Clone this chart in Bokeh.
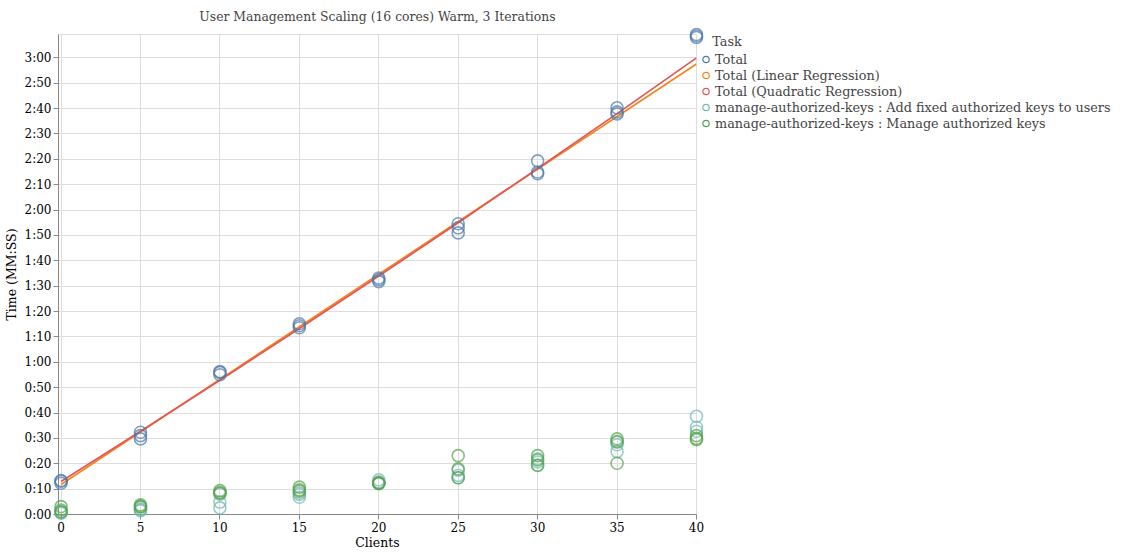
from bokeh.plotting import figure
from bokeh.models import Range1d, FixedTicker, Legend, LegendItem, ColumnDataSource
from bokeh.embed import file_html
from bokeh.resources import INLINE

# ---- data (seconds) ----
clients = [0, 5, 10, 15, 20, 25, 30, 35, 40]
total_it1 = [12.3, 29.8, 55.1, 73.6, 91.8, 111.0, 134.3, 157.9, 188.0]
total_it2 = [13.1, 31.1, 56.0, 74.4, 92.6, 113.0, 135.0, 158.7, 188.6]
total_it3 = [13.4, 32.4, 56.3, 75.2, 93.2, 114.6, 139.4, 160.3, 189.2]

addkeys_it1 = [0.5, 1.8, 2.6, 6.8, 13.7, 14.5, 19.5, 24.8, 38.7]
addkeys_it2 = [1.2, 2.2, 4.9, 7.9, 12.9, 15.4, 20.7, 27.5, 34.4]
addkeys_it3 = [0.8, 1.5, 8.0, 8.5, 12.3, 17.5, 22.0, 28.5, 32.8]

manage_it1 = [3.1, 3.8, 9.4, 10.8, 12.5, 23.2, 23.2, 29.8, 31.1]
manage_it2 = [1.8, 3.2, 8.7, 9.7, 12.1, 18.0, 21.5, 28.8, 30.0]
manage_it3 = [1.0, 3.0, 8.4, 9.2, 12.3, 14.5, 19.3, 20.2, 29.5]

linear_x = [0, 40]
linear_y = [11.8, 177.6]
quad_x = [0, 5, 10, 15, 20, 25, 30, 35, 40]
quad_y = [13.0, 32.8, 52.9, 73.3, 94.0, 115.0, 136.4, 158.0, 180.0]

x_ticks = [0, 5, 10, 15, 20, 25, 30, 35, 40]
y_ticks = list(range(0, 190, 10))

labels = ["Total", "Total (Linear Regression)", "Total (Quadratic Regression)",
          "manage-authorized-keys : Add fixed authorized keys to users",
          "manage-authorized-keys : Manage authorized keys"]
colors = ["#4c78a8", "#f58518", "#e45756", "#72b7b2", "#54a24b"]

FONT = "DejaVu Serif"
FS = "12px"

p = figure(frame_width=638, frame_height=480, output_backend="svg", toolbar_location=None,
           x_range=Range1d(-0.16, 40), y_range=Range1d(0, 189.2),
           title="User Management Scaling (16 cores) Warm, 3 Iterations",
           min_border_left=0, min_border_top=0, min_border_bottom=0, min_border_right=0)
p.title.align = "center"
p.title.vertical_align = "top"
p.title.text_font = FONT
p.title.text_font_size = "12.4px"
p.title.text_font_style = "normal"
p.title.standoff = 17
p.outline_line_color = "#dddddd"

for ax in (p.xaxis[0], p.yaxis[0]):
    ax.axis_line_color = "#888888"
    ax.major_tick_line_color = "#888888"
    ax.major_tick_out = 5
    ax.major_tick_in = 0
    ax.minor_tick_line_color = None
    ax.major_label_text_font = FONT
    ax.major_label_text_font_size = FS
    ax.major_label_text_color = "#000000"
    ax.axis_label_text_font = FONT
    ax.axis_label_text_font_size = "12.5px"
    ax.axis_label_text_font_style = "normal"
    ax.axis_label_text_color = "#000000"

p.xaxis.ticker = FixedTicker(ticks=x_ticks)
p.yaxis.ticker = FixedTicker(ticks=y_ticks)
p.yaxis.major_label_overrides = {v: f"{v // 60}:{v % 60:02d}" for v in y_ticks}
p.xaxis.axis_label = "Clients"
p.yaxis.axis_label = "Time (MM:SS)"
p.xaxis.major_label_standoff = 2
p.xaxis.axis_label_standoff = 0
p.yaxis.major_label_standoff = 2
p.yaxis.axis_label_standoff = 3

p.xgrid.ticker = FixedTicker(ticks=x_ticks)
p.ygrid.ticker = FixedTicker(ticks=y_ticks)
p.grid.grid_line_color = "#dddddd"

def pts(its):
    xs, ys = [], []
    for it in its:
        xs += clients
        ys += it
    return ColumnDataSource(dict(x=xs, y=ys))

p.line(linear_x, linear_y, line_color=colors[1], line_width=1.7)
p.line(quad_x, quad_y, line_color=colors[2], line_width=1.7)
r_total = p.scatter("x", "y", source=pts([total_it1, total_it2, total_it3]), size=12,
                    fill_color=None, line_color=colors[0], line_width=1.6, line_alpha=0.7,
                    level="overlay")
r_add = p.scatter("x", "y", source=pts([addkeys_it1, addkeys_it2, addkeys_it3]), size=12,
                  fill_color=None, line_color=colors[3], line_width=1.6, line_alpha=0.7,
                  level="overlay")
r_man = p.scatter("x", "y", source=pts([manage_it1, manage_it2, manage_it3]), size=12,
                  fill_color=None, line_color=colors[4], line_width=1.6, line_alpha=0.7,
                  level="overlay")

nan = float("nan")
items = []
for lab, col in zip(labels, colors):
    r = p.scatter(x=[nan], y=[nan], size=8, fill_color=None, line_color=col, line_width=1.2)
    items.append(LegendItem(label=lab, renderers=[r]))

legend = Legend(items=items, title="\u00a0\u00a0\u00a0\u00a0Task", location="top_left")
legend.title_text_font = FONT
legend.title_text_font_size = "12.8px"
legend.title_text_font_style = "normal"
legend.label_text_font = FONT
legend.label_text_font_size = "12.8px"
legend.label_height = 16
legend.glyph_height = 16
legend.glyph_width = 19
legend.label_standoff = 0
legend.spacing = 0
legend.padding = 0
legend.margin = 0
legend.title_standoff = 2
legend.border_line_alpha = 0
legend.background_fill_alpha = 0
p.add_layout(legend, "right")

open("out.html", "w").write(file_html(p, INLINE))
